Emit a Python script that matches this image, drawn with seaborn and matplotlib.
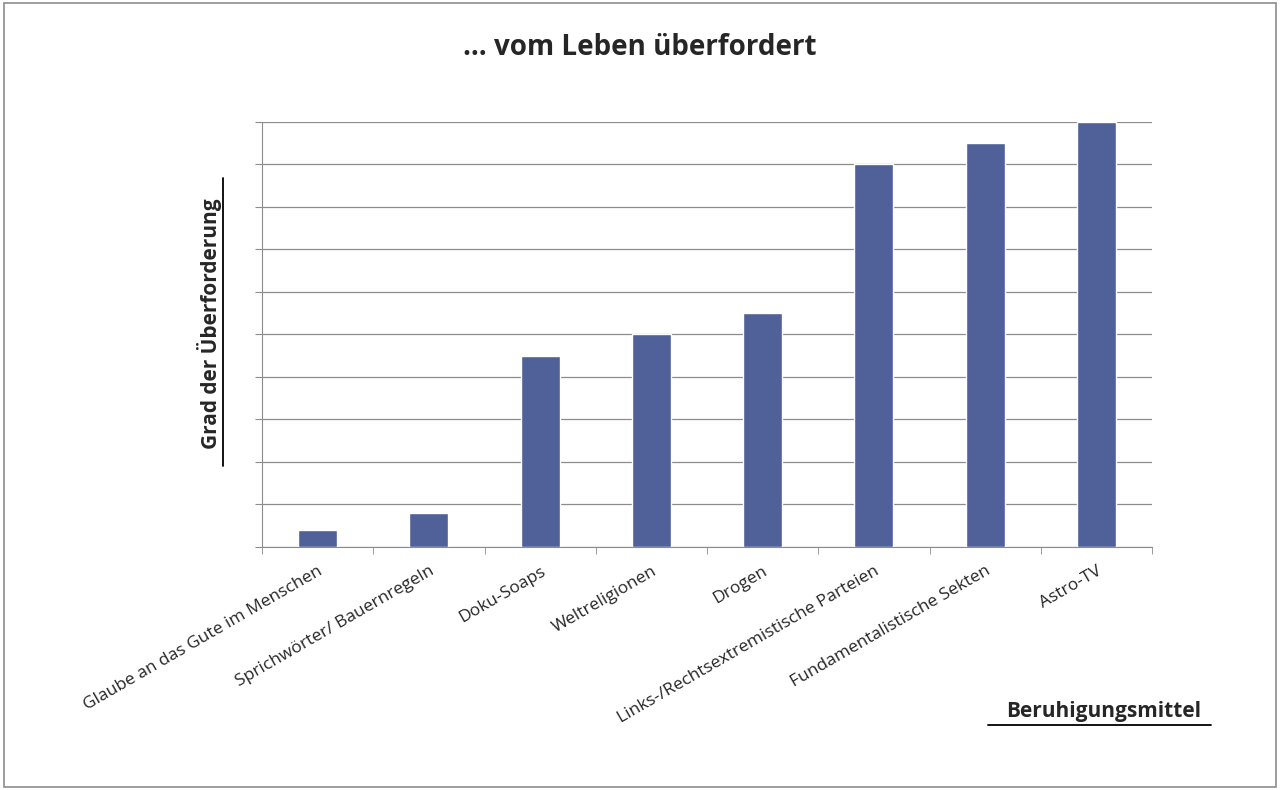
import matplotlib
matplotlib.use("Agg")
import matplotlib.pyplot as plt
import seaborn as sns
from matplotlib.lines import Line2D
from matplotlib.patches import Rectangle

# Beruhigungsmittel und Grad der Ueberforderung
mittel = ["Glaube an das Gute im Menschen", "Sprichwörter/ Bauernregeln", "Doku-Soaps",
          "Weltreligionen", "Drogen", "Links-/Rechtsextremistische Parteien",
          "Fundamentalistische Sekten", "Astro-TV"]
grad = [0.4, 0.8, 4.5, 5.0, 5.5, 9.0, 9.5, 10.0]

sns.set_style("white")
plt.rcParams['font.family'] = ['Open Sans', 'DejaVu Sans']

fig = plt.figure(figsize=(12.8, 7.9), dpi=100)
fig.patches.append(Rectangle((0.003, 0.004), 0.994, 0.992, transform=fig.transFigure,
                             fill=False, edgecolor="#8c8c8c", lw=1.2))
ax = fig.add_axes([0.2047, 0.3076, 0.6953, 0.538])

sns.barplot(x=mittel, y=grad, color="#4F6198", width=0.35, saturation=1, ax=ax)
ax.set_ylim(0, 10)
ax.set_xlim(-0.5, len(mittel) - 0.5)
ax.set_yticks(range(0, 11))
ax.set_yticklabels([])
ax.yaxis.grid(True, color="#8c8c8c", lw=0.9)
ax.set_axisbelow(True)
for s in ["top", "right"]:
    ax.spines[s].set_visible(False)
ax.spines["left"].set_color("#8c8c8c")
ax.spines["bottom"].set_color("#8c8c8c")
ax.tick_params(axis="y", left=True, length=5, color="#8c8c8c")
ax.set_xticks([i + 0.5 for i in range(-1, len(mittel))], minor=True)
ax.tick_params(axis="x", which="minor", bottom=True, length=5, color="#8c8c8c")
ax.tick_params(axis="x", which="major", bottom=False, pad=8)
ax.set_xticks(range(len(mittel)))
ax.set_xticklabels(mittel, rotation=30, ha="right", rotation_mode="anchor", fontsize=12.5)
ax.set_xlabel("")
ax.set_ylabel("")

fig.text(0.5, 0.94, "… vom Leben überfordert", ha="center", va="center",
         fontsize=20, fontweight="bold")
fig.text(0.164, 0.59, "Grad der Überforderung", rotation=90, ha="center", va="center",
         fontsize=15, fontweight="bold")
fig.add_artist(Line2D([0.174, 0.174], [0.41, 0.775], transform=fig.transFigure, color="black", lw=1.3))
fig.text(0.8625, 0.1, "Beruhigungsmittel", ha="center", va="center",
         fontsize=15, fontweight="bold")
fig.add_artist(Line2D([0.772, 0.946], [0.082, 0.082], transform=fig.transFigure, color="black", lw=1.3))

fig.savefig("out.png", dpi=100)
